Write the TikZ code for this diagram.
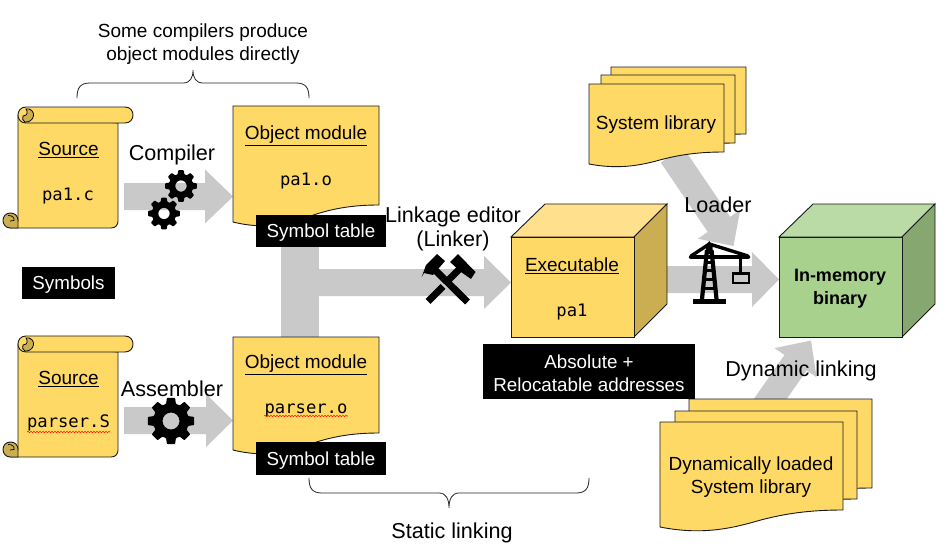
\documentclass[tikz,border=0pt]{standalone}
\usepackage{fontspec}
\setmainfont{Liberation Sans}
\setmonofont{DejaVu Sans Mono}
\usetikzlibrary{calc,decorations.pathmorphing}
\definecolor{yel}{HTML}{FFD966}
\definecolor{yeltop}{HTML}{FFE08C}
\definecolor{yelside}{HTML}{CCAE52}
\definecolor{grn}{HTML}{A9D18E}
\definecolor{grntop}{HTML}{BADBA5}
\definecolor{grnside}{HTML}{87A771}
\definecolor{arrowgray}{HTML}{C9C9C9}
\newcommand\lowered[1]{\raisebox{-1.7pt}[\height][\depth]{#1}}
\tikzset{
  arrowfill/.style={fill=arrowgray,draw=none},
  shapeline/.style={draw=black!90,line width=0.9pt,line join=miter},
  iconfill/.style={fill=black,draw=none},
  bracestyle/.style={draw=black!85,line width=0.8pt},
  big/.style={inner sep=0pt,align=center,yshift=-1.5pt,font=\fontsize{21.6}{24.5}\selectfont},
  mid/.style={inner sep=0pt,align=center,yshift=-2pt,font=\fontsize{19}{23.5}\selectfont},
  midbold/.style={inner sep=0pt,align=center,yshift=-1.5pt,font=\fontsize{18}{23}\selectfont\bfseries},
  code/.style={inner sep=0pt,yshift=-1pt,font=\fontsize{17.2}{20}\ttfamily},
  blackbox/.style={fill=black,text=white,inner sep=0pt,align=center,font=\fontsize{18.8}{23}\selectfont},
  squiggle/.style={draw=red!80!orange,line width=0.6pt,decorate,decoration={snake,segment length=3pt,amplitude=0.7pt}}
}
\newcommand\blockarrow[5]{%
  \pgfmathsetmacro\hs{#3/2}\pgfmathsetmacro\hh{#4/2}%
  \coordinate (ba) at ($(#2)!#5 pt!(#1)$);
  \fill[arrowfill] ($(#1)!\hs pt!90:(#2)$) -- ($(ba)!\hs pt!-90:(#1)$) -- ($(ba)!\hh pt!-90:(#1)$) -- (#2)
    -- ($(ba)!\hh pt!90:(#1)$) -- ($(ba)!\hs pt!90:(#1)$) -- ($(#1)!\hs pt!-90:(#2)$) -- cycle;
}
% L T R Yr Yl
\newcommand\docshape[5]{%
  \pgfmathsetmacro\w{#3-#1}\pgfmathsetmacro\d{#5-#4}%
  \path[shapeline,fill=yel] (#1,#2) -- (#3,#2) -- (#3,#4)
    .. controls ({#3-0.18*\w},#4) and ({#3-0.32*\w},{#4+0.2*\d}) .. ({#3-0.47*\w},{#4+0.65*\d})
    .. controls ({#3-0.62*\w},{#4+1.12*\d}) and ({#3-0.78*\w},{#4+1.47*\d}) .. (#1,#5) -- cycle;
}
% scroll with top y
\newcommand\scrollshape[1]{%
  \begin{scope}[shift={(0,#1)}]
    \path[shapeline,fill=yel] (18,8) -- (18,114) -- (10.5,121) -- (111,121)
      .. controls (115.5,121) and (118,118) .. (118,114) -- (118,16) -- cycle;
    \path[shapeline,fill=yel] (26,0) -- (125,0) .. controls (135.7,0) and (135.7,16) .. (125,16)
      -- (26,16) .. controls (15.3,16) and (15.3,0) .. (26,0) -- cycle;
    \path[fill=yelside,draw=black,line width=0.8pt] (26,2) .. controls (31,1) and (34,5) .. (33.5,8.5)
      .. controls (33,13) and (29,15.5) .. (25,15)
      .. controls (22.5,14) and (22,11) .. (23,9) .. controls (25,9) and (28,8) .. (27,4) .. controls (26.8,3) and (26.5,2.5) .. (26,2) -- cycle;
    \path[shapeline,fill=yelside] (10.5,106) .. controls (0.5,106) and (0.5,121) .. (10.5,121)
      -- (18,121) -- (18,113.5) .. controls (18,109) and (15,106) .. (10.5,106) -- cycle;
    \draw[black,line width=0.7pt] (8,108.5) .. controls (12,108) and (15,111) .. (14,113.5) -- (10,114);
  \end{scope}
}
\newcommand\gearicon[3]{% centre, R, hole
  \pgfmathsetmacro\ri{#2*0.76}
  \begin{scope}[shift={#1}]
    \fill[iconfill,even odd rule,rounded corners=0.7pt] (-22.5:\ri)
      \foreach \a in {0,45,...,315} { -- ({\a-16}:\ri) -- ({\a-10}:#2) -- ({\a+10}:#2) -- ({\a+16}:\ri) } -- cycle
      (0,0) circle[radius=#3 pt];
  \end{scope}
}
\begin{document}
\begin{tikzpicture}[x=1pt,y=-1pt]
\useasboundingbox (0,0) rectangle (949,554);
\fill[white] (0,0) rectangle (949,554);

% anchors of the block arrows
\coordinate (compTail) at (124,196.5);
\coordinate (compTip) at (233,196.5);
\coordinate (asmTail) at (124,420.5);
\coordinate (asmTip) at (233,420.5);
\coordinate (linkTail) at (300,282.5);
\coordinate (linkTip) at (511,282.5);
\coordinate (loadTail) at (650,279.5);
\coordinate (loadTip) at (779,279.5);
\coordinate (sysTail) at (672,155);
\coordinate (sysTip) at (733.5,246);
\coordinate (dynTail) at (764,408);
\coordinate (dynTip) at (811,340.5);

\fill[arrowfill] (281,240) rectangle (319,345);
\blockarrow{compTail}{compTip}{27}{54}{28}
\blockarrow{asmTail}{asmTip}{27}{53}{27}
\blockarrow{linkTail}{linkTip}{27}{53}{27}
\blockarrow{loadTail}{loadTip}{27}{55}{27}
\blockarrow{sysTail}{sysTip}{27}{51}{26}
\blockarrow{dynTail}{dynTip}{27}{51}{27}

% scrolls
\scrollshape{107}
\scrollshape{336}

% object modules
\docshape{233}{106}{379}{205}{222}
\docshape{233}{337}{379}{433}{450}

% stacks
\docshape{611}{67}{746}{134}{146}
\docshape{601}{75}{735}{143}{155}
\docshape{589}{84}{724}{152}{164}
\docshape{689}{399}{872}{488}{505}
\docshape{675}{411}{857}{499}{516}
\docshape{660}{422}{843}{510}{527}

% executable cube
\path[shapeline,fill=yeltop] (511,237) -- (545,204) -- (667,204) -- (634,237) -- cycle;
\path[shapeline,fill=yelside] (634,237) -- (667,204) -- (667,304) -- (634,337) -- cycle;
\node[shapeline,fill=yel,minimum width=123pt,minimum height=100pt,inner sep=0pt] (execFront) at (572.5,287) {};
% memory cube
\path[shapeline,fill=grntop] (779,237) -- (813,204) -- (935,204) -- (902,237) -- cycle;
\path[shapeline,fill=grnside] (902,237) -- (935,204) -- (935,304) -- (902,337) -- cycle;
\node[shapeline,fill=grn,minimum width=123pt,minimum height=100pt,inner sep=0pt] (memFront) at (840.5,287) {};

% black boxes
\node[blackbox,minimum width=130pt,minimum height=32pt] (symA) at (321,231) {\lowered{Symbol table}};
\node[blackbox,minimum width=130pt,minimum height=33pt] (symB) at (321,458.5) {\lowered{Symbol table}};
\node[blackbox,minimum width=93pt,minimum height=32pt] (symbols) at (68.5,283) {\lowered{Symbols}};
\node[blackbox,minimum width=212pt,minimum height=55pt] (addr) at (589,371.5) {\lowered{Absolute +}\\\lowered{Relocatable addresses}};

% braces
\path[bracestyle] (77,98) .. controls (77,88) and (80,83) .. (90,83) -- (183,83)
  .. controls (190,83) and (193,78) .. (193,70) .. controls (193,78) and (196,83) .. (203,83)
  -- (296,83) .. controls (306,83) and (309,88) .. (309,98);
\path[bracestyle] (309,478) .. controls (309,488) and (312,493) .. (322,493) -- (439,493)
  .. controls (446,493) and (449,499) .. (449,508) .. controls (449,499) and (452,493) .. (459,493)
  -- (576,493) .. controls (586,493) and (589,488) .. (589,478);

% gears
\gearicon{(181,186)}{16}{5.7}
\gearicon{(164,213.5)}{16}{5.7}
\gearicon{(171,421)}{23.5}{8.5}

% hammers
\draw[black,line width=7pt] (428,301.5) -- (443,286.5);
\draw[black,line width=7pt] (449,279.5) -- (459,269.5);
\draw[black,line width=7pt] (467.5,302) -- (433,268);
\fill[iconfill] (421.7,277) -- (426,265) -- (437,254) -- (445,261) -- (433,275) -- (424,273) -- cycle;
\fill[iconfill] (458,254) -- (475.5,272) -- (471,279) -- (461,272) -- (450,262) -- cycle;

% crane
\draw[black,line width=4.2pt] (707,250) -- (702,299);
\draw[black,line width=4.2pt] (711.5,250) -- (716.5,299);
\fill[iconfill] (709.3,241) -- (712.5,246) -- (712.5,254) -- (706,254) -- (706,246) -- cycle;
\foreach \yy in {262,270.5,279,288}{\draw[black,line width=3pt] (704,\yy) -- (715,\yy);}
\fill[iconfill] (692.5,298.5) rectangle (725.5,303.5);
\draw[black,line width=4.5pt,line cap=round] (691,257) -- (748,257);
\draw[black,line width=3.4pt] (691,256) -- (709.3,244) -- (748,256);
\draw[black,line width=2.5pt] (740.5,257) -- (740.5,273);
\draw[black,line width=2.8pt] (733,273.5) rectangle (749,283);

% texts
\node[mid,font=\fontsize{19}{23}\selectfont] (noteTop) at (203,42.5) {Some compilers produce\\object modules directly};
\node[mid] (srcA) at (68.5,148) {\underline{Source}};
\node[code] (srcAf) at (68,195) {pa1.c};
\node[mid] (srcB) at (68.5,377) {\underline{Source}};
\node[code] (srcBf) at (68.5,422) {parser.S};
\node[mid] (objA) at (306,133.5) {\underline{Object module}};
\node[code] (objAf) at (306,180) {pa1.o};
\node[mid] (objB) at (306,362.5) {\underline{Object module}};
\node[code] (objBf) at (306,409) {parser.o};
\node[big] (compiler) at (172,153) {Compiler};
\node[big] (assembler) at (172,387) {Assembler};
\node[big] (linker) at (453,227.5) {Linkage editor\\(Linker)};
\node[big] (loader) at (718,203) {Loader};
\node[big] (dynlink) at (801,369) {Dynamic linking};
\node[big] (statlink) at (452,531) {Static linking};
\node[mid] (exec) at (572,264) {\underline{Executable}};
\node[code] (execf) at (572,311) {pa1};
\node[midbold] (mem) at (840,287.5) {In-memory\\binary};
\node[mid] (syslib) at (656,123) {System library};
\node[mid] (dynlib) at (751,475) {Dynamically loaded\\System library};

\path[squiggle] (27,432) -- (110,432);
\path[squiggle] (264,416) -- (348,416);
\end{tikzpicture}
\end{document}
